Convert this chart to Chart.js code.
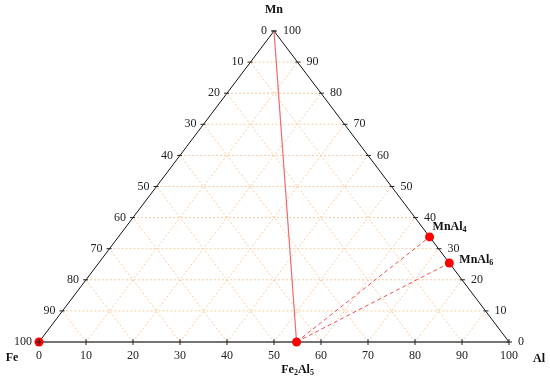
<!DOCTYPE html>
<html>
<head>
<meta charset="utf-8">
<script src="https://cdn.jsdelivr.net/npm/chart.js@4.4.0/dist/chart.umd.min.js"></script>
<style>
  html, body { margin: 0; padding: 0; background: #fff; }
  #wrap { width: 550px; height: 382px; position: relative; }
</style>
</head>
<body>
<div id="wrap"><canvas id="ternary"></canvas></div>
<script>
const compounds = ['Fe', 'Fe2Al5', 'MnAl4', 'MnAl6'];
const alContent = [0, 54.8, 66.2, 74.6];
const mnContent = [0, 0, 33.8, 25.4];
const tickValues = [0, 10, 20, 30, 40, 50, 60, 70, 80, 90, 100];

// ternario -> cartesiano (x en % de la base, y = Mn)
function tern(al, mn) {
    return { x: al + mn / 2, y: mn };
}

const gridColor = '#f9cba0';
const datasets = [];

// Rejilla discontinua
tickValues.slice(1, -1).forEach(v => {
    // horizontales (Mn constante)
    datasets.push({ data: [tern(0, v), tern(100 - v, v)], borderColor: gridColor });
    // Al constante
    datasets.push({ data: [tern(v, 0), tern(v, 100 - v)], borderColor: gridColor });
    // Fe constante
    datasets.push({ data: [tern(100 - v, 0), tern(0, 100 - v)], borderColor: gridColor });
});
datasets.forEach(d => {
    Object.assign(d, { showLine: true, pointRadius: 0, borderWidth: 1, borderDash: [2, 2], order: 5, clip: false });
});

// Lados del triángulo
datasets.push({ data: [tern(0, 0), tern(0, 100), tern(100, 0)], showLine: true, pointRadius: 0,
    borderColor: '#111', borderWidth: 1, order: 4, clip: false });
datasets.push({ data: [tern(0, 0), tern(100, 0)], showLine: true, pointRadius: 0,
    borderColor: '#444', borderWidth: 1.6, order: 3, clip: false });

// Líneas de enlace
const fe2al5 = tern(alContent[1], mnContent[1]);
datasets.push({ data: [tern(0, 100), fe2al5], showLine: true, pointRadius: 0,
    borderColor: '#f06a6a', borderWidth: 1.2, order: 2, clip: false });
[2, 3].forEach(i => {
    datasets.push({ data: [fe2al5, tern(alContent[i], mnContent[i])], showLine: true, pointRadius: 0,
        borderColor: '#f05050', borderWidth: 1, borderDash: [4, 3], order: 2, clip: false });
});

// Puntos
datasets.push({
    data: compounds.map((c, i) => tern(alContent[i], mnContent[i])),
    pointRadius: 4.5, pointBackgroundColor: '#ff0000', pointBorderWidth: 0,
    order: 0, clip: false
});

function drawFormula(ctx, text, x, y, size) {
    // dígitos como subíndices
    const parts = text.match(/[A-Za-z]+|\d+/g);
    let total = 0;
    parts.forEach(p => {
        ctx.font = (/\d/.test(p) ? 'bold ' + Math.round(size * 0.7) : 'bold ' + size) + 'px "Liberation Serif"';
        total += ctx.measureText(p).width;
    });
    let cx = x - total / 2;
    ctx.textAlign = 'left';
    parts.forEach(p => {
        const sub = /\d/.test(p);
        ctx.font = (sub ? 'bold ' + Math.round(size * 0.7) : 'bold ' + size) + 'px "Liberation Serif"';
        ctx.fillText(p, cx, sub ? y + size * 0.28 : y);
        cx += ctx.measureText(p).width;
    });
}

const ternaryAxes = {
    id: 'ternaryAxes',
    afterDatasetsDraw(chart) {
        const ctx = chart.ctx;
        const xs = chart.scales.x, ys = chart.scales.y;
        const px = p => ({ x: xs.getPixelForValue(p.x), y: ys.getPixelForValue(p.y) });
        ctx.save();
        ctx.fillStyle = '#222';
        ctx.strokeStyle = '#222';
        ctx.lineWidth = 1;
        ctx.font = '12px "Liberation Serif"';
        ctx.textBaseline = 'middle';

        tickValues.forEach(v => {
            // base: Al
            let p = px(tern(v, 0));
            ctx.beginPath(); ctx.moveTo(p.x, p.y - 3); ctx.lineTo(p.x, p.y + 3); ctx.stroke();
            ctx.textAlign = 'center';
            ctx.fillText(String(v), p.x, p.y + 14);
            // izquierda: Fe
            p = px(tern(0, 100 - v));
            ctx.beginPath(); ctx.moveTo(p.x - 3, p.y); ctx.lineTo(p.x + 2, p.y); ctx.stroke();
            ctx.textAlign = 'right';
            ctx.fillText(String(v), p.x - 7, p.y);
            // derecha: Mn
            p = px(tern(100 - v, v));
            ctx.beginPath(); ctx.moveTo(p.x - 2, p.y); ctx.lineTo(p.x + 3, p.y); ctx.stroke();
            ctx.textAlign = 'left';
            ctx.fillText(String(v), p.x + 9, p.y);
        });

        ctx.fillStyle = '#111';
        ctx.textAlign = 'center';
        const top = px(tern(0, 100));
        drawFormula(ctx, 'Mn', top.x, top.y - 21, 12);
        const fe = px(tern(0, 0));
        drawFormula(ctx, 'Fe', fe.x - 27, fe.y + 16, 12);
        const al = px(tern(100, 0));
        drawFormula(ctx, 'Al', al.x + 30, al.y + 17, 12);
        const f = px(fe2al5);
        drawFormula(ctx, 'Fe2Al5', f.x + 1, f.y + 28, 12);
        const m4 = px(tern(alContent[2], mnContent[2]));
        drawFormula(ctx, 'MnAl4', m4.x + 20, m4.y - 10, 12);
        const m6 = px(tern(alContent[3], mnContent[3]));
        drawFormula(ctx, 'MnAl6', m6.x + 27, m6.y - 3, 12);
        ctx.restore();
    }
};

new Chart(document.getElementById('ternary'), {
    type: 'scatter',
    data: { datasets: datasets },
    options: {
        responsive: true,
        maintainAspectRatio: false,
        animation: false,
        layout: { padding: { left: 39, right: 41, top: 31, bottom: 40 } },
        scales: {
            x: { type: 'linear', min: 0, max: 100, display: false },
            y: { type: 'linear', min: 0, max: 100, display: false }
        },
        plugins: { legend: { display: false }, tooltip: { enabled: false } }
    },
    plugins: [ternaryAxes]
});
</script>
</body>
</html>
